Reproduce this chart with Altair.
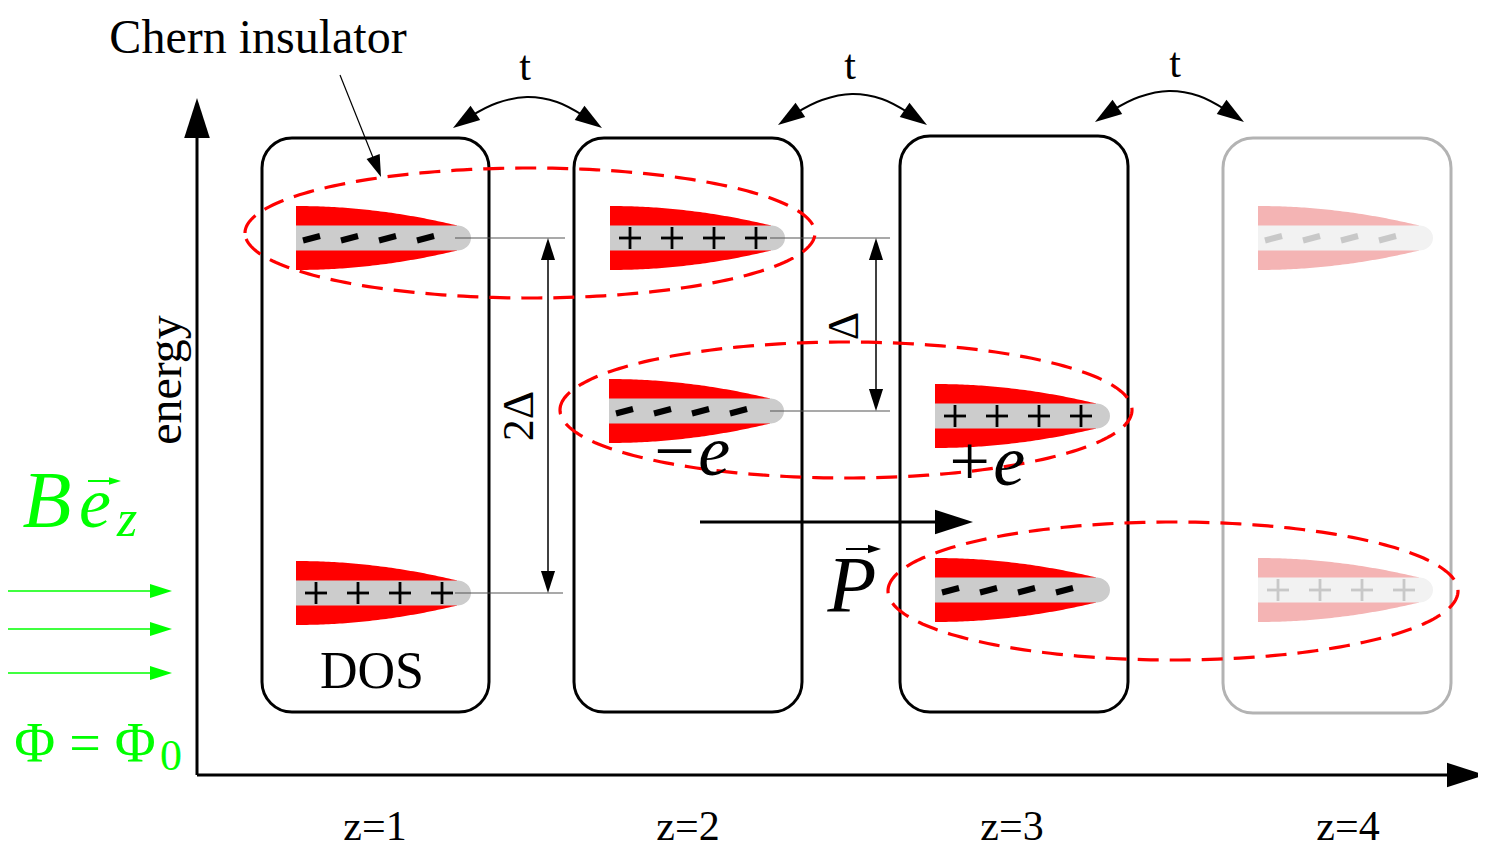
import numpy as np
import pandas as pd
import altair as alt

W, H = 1470, 844
X0, Y0 = 8, 8
xs = alt.Scale(domain=[X0, X0 + W], nice=False, zero=False)
ys = alt.Scale(domain=[Y0, Y0 + H], nice=False, zero=False, reverse=True)

def X(f="x"):
    return alt.X(f"{f}:Q", scale=xs, axis=None)

def Y(f="y"):
    return alt.Y(f"{f}:Q", scale=ys, axis=None)

RED = "#ff0000"
GREEN = "#00ff00"
FADED_RED = "#f4b4b4"
FADED_GRAY = "#f2f2f2"
FADED_SIGN = "#c8c8c8"
BAND = "#cccccc"
FONT = "Liberation Serif"

# ---- layer boxes (sites z=1..4) ----
box_left = [262, 574, 900, 1223]
box_right = [489, 802, 1128, 1451]
box_top = [138, 138, 136, 138]
box_bottom = [712, 712, 712, 713]
box_color = ["black", "black", "black", "#b3b3b3"]

# ---- DOS levels ----
level_x0 = [296, 296, 610, 609, 935, 935, 1258, 1258]
level_y = [238, 593, 238, 411, 416, 590, 238, 590]
level_sign = ["-", "+", "+", "-", "+", "-", "-", "+"]
level_faded = [0, 0, 0, 0, 0, 0, 1, 1]
red_len, gray_len = 161, 175
red_half, gray_half = 32, 12.5
dash_offsets = [7, 45, 83, 121]
plus_offsets = [20, 62, 104, 146]

# ---- energy reference lines ----
ref_x1 = [455, 455, 770, 770]
ref_x2 = [565, 563, 890, 890]
ref_y = [238, 593, 238, 411]

# ---- Chern-insulator ellipses ----
ell_cx = [530, 846, 1173]
ell_cy = [233, 410, 591]
ell_rx = [285, 286, 285]
ell_ry = [65, 68, 69]

# ---- hopping arrows t ----
hop_dx = [0, 325, 642]
hop_dy = [0, -3, -6]
hop_curve_x = [471, 497, 527, 557, 584]
hop_curve_y = [116, 103, 97, 102, 116]

# ---- green flux arrows ----
flux_y = [591, 629, 673]

# ---------------- build tables ----------------
boxes = pd.DataFrame({"x": box_left, "x2": box_right, "y": box_top, "y2": box_bottom, "c": box_color})

area_rows_red, area_rows_gray = [], []
seg = []  # x, y, x2, y2, c, w
tr = np.linspace(0, 1, 60)
tg = np.linspace(0, 1, 40)
for i, (x0, yc, sg, fd) in enumerate(zip(level_x0, level_y, level_sign, level_faded)):
    rc = FADED_RED if fd else RED
    gc = FADED_GRAY if fd else BAND
    sc = FADED_SIGN if fd else "black"
    for t in tr:
        h = gray_half + (red_half - gray_half) * (1 - t * t)
        area_rows_red.append({"id": i, "x": x0 + t * red_len, "y": yc - h, "y2": yc + h, "c": rc})
    for xx in np.linspace(0, red_len, 20):
        area_rows_gray.append({"id": i, "x": x0 + xx, "y": yc - gray_half, "y2": yc + gray_half, "c": gc})
    for t in tg:
        h = gray_half * np.sqrt(max(0.0, 1 - t * t))
        area_rows_gray.append({"id": i, "x": x0 + red_len + t * (gray_len - red_len), "y": yc - h, "y2": yc + h, "c": gc})
    if sg == "-":
        for o in dash_offsets:
            seg.append((x0 + o, yc + 2.5, x0 + o + 17, yc - 2, sc, 6))
    else:
        for o in plus_offsets:
            seg.append((x0 + o - 11, yc, x0 + o + 11, yc, sc, 2.8))
            seg.append((x0 + o, yc - 11, x0 + o, yc + 11, sc, 2.8))

red_df = pd.DataFrame(area_rows_red)
gray_df = pd.DataFrame(area_rows_gray)

for a, b, yy in zip(ref_x1, ref_x2, ref_y):
    seg.append((a, yy, b, yy, "#555555", 1.2))

# axes
seg.append((197, 775, 197, 125, "black", 3))
seg.append((197, 775, 1455, 775, "black", 3))
# 2Delta and Delta double arrows
seg.append((548, 250, 548, 582, "black", 1.5))
seg.append((876, 250, 876, 400, "black", 1.5))
# Chern insulator leader
seg.append((340, 75, 376, 165, "black", 1.2))
# polarisation arrow
seg.append((700, 522, 945, 522, "black", 3))
seg.append((846, 549, 872, 549, "black", 2))
# e-vector arrow (green)
seg.append((88, 481, 113, 481, GREEN, 2))
for fy in flux_y:
    seg.append((8, fy, 155, fy, GREEN, 1.5))
seg_df = pd.DataFrame(seg, columns=["x", "y", "x2", "y2", "c", "w"])

# arrowheads: tip x, y, angle, length, colour
heads = [
    (197, 98, 270, 40, "black"),
    (1485, 775, 0, 38, "black"),
    (548, 238, 270, 22, "black"),
    (548, 593, 90, 22, "black"),
    (876, 238, 270, 22, "black"),
    (876, 411, 90, 22, "black"),
    (381, 177, 69, 22, "black"),
    (973, 522, 0, 38, "black"),
    (881, 549, 0, 13, "black"),
    (121, 481, 0, 12, GREEN),
]
for dx, dy in zip(hop_dx, hop_dy):
    heads.append((453 + dx, 128 + dy, 146, 27, "black"))
    heads.append((602 + dx, 128 + dy, 34, 27, "black"))
for fy in flux_y:
    heads.append((172, fy, 0, 22, GREEN))
heads_df = pd.DataFrame(heads, columns=["x", "y", "a", "L", "c"])
heads_df["s"] = heads_df["L"] ** 2

# hopping curves
hop_rows = []
for k, (dx, dy) in enumerate(zip(hop_dx, hop_dy)):
    for j, (cx, cy) in enumerate(zip(hop_curve_x, hop_curve_y)):
        hop_rows.append({"id": k, "o": j, "x": cx + dx, "y": cy + dy})
hop_df = pd.DataFrame(hop_rows)

# ellipses
ell_rows = []
th = np.linspace(0, 2 * np.pi, 241)
for k, (cx, cy, rx, ry) in enumerate(zip(ell_cx, ell_cy, ell_rx, ell_ry)):
    for j, t in enumerate(th):
        ell_rows.append({"id": k, "o": j, "x": cx + rx * np.cos(t + np.pi), "y": cy + ry * np.sin(t + np.pi)})
ell_df = pd.DataFrame(ell_rows)

# texts
up_text = pd.DataFrame([
    ("Chern insulator", 258, 53, 48, 0, "black"),
    ("t", 525, 80, 42, 0, "black"),
    ("t", 850, 79, 42, 0, "black"),
    ("t", 1175, 77, 42, 0, "black"),
    ("energy", 181, 380, 48, 270, "black"),
    ("2Δ", 533, 416, 44, 270, "black"),
    ("Δ", 858, 326, 44, 270, "black"),
    ("DOS", 372, 688, 52, 0, "black"),
    ("z=1", 375, 840, 42, 0, "black"),
    ("z=2", 688, 840, 42, 0, "black"),
    ("z=3", 1012, 840, 42, 0, "black"),
    ("z=4", 1348, 840, 42, 0, "black"),
    ("Φ = Φ", 85, 762, 56, 0, GREEN),
    ("0", 171, 770, 44, 0, GREEN),
], columns=["t", "x", "y", "s", "a", "c"])

it_text = pd.DataFrame([
    ("−e", 690, 475, 72, 0, "black"),
    ("+e", 985, 485, 72, 0, "black"),
    ("P", 852, 612, 80, 0, "black"),
    ("B", 47, 527, 80, 0, GREEN),
    ("e", 95, 527, 72, 0, GREEN),
    ("z", 127, 536, 52, 0, GREEN),
], columns=["t", "x", "y", "s", "a", "c"])

ARROW_PATH = "M0,0L-2,-0.64L-2,0.64Z"

box_layer = alt.Chart(boxes).mark_rect(cornerRadius=30, fillOpacity=0, strokeWidth=3).encode(
    x=X(), x2="x2:Q", y=Y(), y2="y2:Q", stroke=alt.Stroke("c:N", scale=None))

red_layer = alt.Chart(red_df).mark_area(opacity=1).encode(
    x=X(), y=Y(), y2="y2:Q", detail="id:N", fill=alt.Fill("c:N", scale=None))
gray_layer = alt.Chart(gray_df).mark_area(opacity=1).encode(
    x=X(), y=Y(), y2="y2:Q", detail="id:N", fill=alt.Fill("c:N", scale=None))

ell_layer = alt.Chart(ell_df).mark_line(color=RED, strokeWidth=3.2, strokeDash=[21, 11]).encode(
    x=X(), y=Y(), detail="id:N", order="o:Q")

seg_layer = alt.Chart(seg_df).mark_rule(strokeCap="butt").encode(
    x=X(), x2="x2:Q", y=Y(), y2="y2:Q",
    stroke=alt.Stroke("c:N", scale=None), strokeWidth=alt.StrokeWidth("w:Q", scale=None))

hop_layer = alt.Chart(hop_df).mark_line(color="black", strokeWidth=2, interpolate="cardinal").encode(
    x=X(), y=Y(), detail="id:N", order="o:Q")

head_layer = alt.Chart(heads_df).mark_point(shape=ARROW_PATH, filled=True, opacity=1, strokeWidth=0).encode(
    x=X(), y=Y(), angle=alt.Angle("a:Q", scale=None), size=alt.Size("s:Q", scale=None),
    fill=alt.Fill("c:N", scale=None))

up_layer = alt.Chart(up_text).mark_text(font=FONT, align="center", baseline="alphabetic").encode(
    x=X(), y=Y(), text="t:N", size=alt.Size("s:Q", scale=None), angle=alt.Angle("a:Q", scale=None),
    color=alt.Color("c:N", scale=None))
it_layer = alt.Chart(it_text).mark_text(font=FONT, fontStyle="italic", align="center", baseline="alphabetic").encode(
    x=X(), y=Y(), text="t:N", size=alt.Size("s:Q", scale=None), angle=alt.Angle("a:Q", scale=None),
    color=alt.Color("c:N", scale=None))

chart = alt.layer(
    box_layer, red_layer, gray_layer, seg_layer, ell_layer, hop_layer, head_layer, up_layer, it_layer
).properties(
    width=W, height=H, padding=0, background="white",
    autosize=alt.AutoSizeParams(type="none"),
).configure_view(strokeWidth=0)

chart.save("out.html", embed_options={"renderer": "svg", "actions": False})
